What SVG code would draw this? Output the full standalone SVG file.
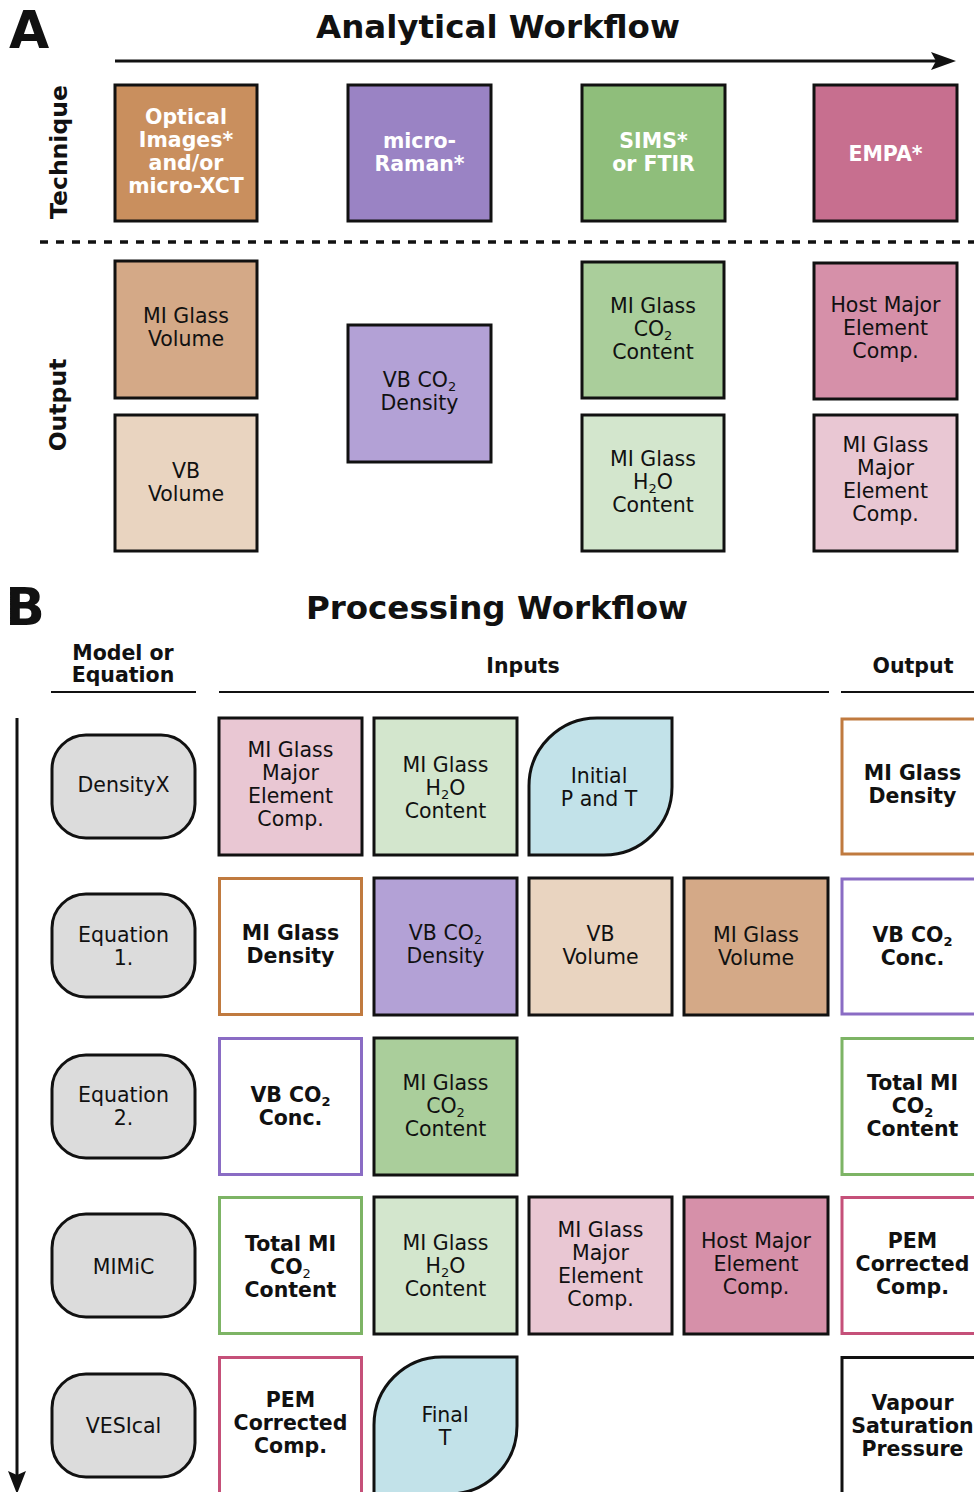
<svg xmlns="http://www.w3.org/2000/svg" width="974" height="1492" viewBox="0 0 974 1492">
<style>
text{font-family:"DejaVu Sans","Verdana",sans-serif;fill:#111;text-anchor:middle;font-size:20.5px}
.b{font-weight:bold}
.w{fill:#fff;font-weight:bold}
.bx{stroke:#111;stroke-width:3}
.ob{fill:#fff;stroke-width:3}
.mod{fill:#dcdcdc;stroke:#111;stroke-width:3}
.sub{font-size:13px}
.hdr{font-weight:bold;font-size:20.5px}
</style>
<rect width="974" height="1492" fill="#fff"/>

<!-- Panel A -->
<text x="29" y="48" class="b" style="font-size:52px">A</text>
<text x="498" y="38" class="b" style="font-size:32.5px">Analytical Workflow</text>
<text transform="translate(67,152) rotate(-90)" class="b" style="font-size:23.5px">Technique</text>
<text transform="translate(66,405) rotate(-90)" class="b" style="font-size:23.5px">Output</text>

<g id="connectors">
<line x1="115" y1="61" x2="938" y2="61" stroke="#111" stroke-width="3"/>
<path d="M956,61 L931,52 L936,61 L931,70 Z" fill="#111"/>
<line x1="40" y1="242" x2="974" y2="242" stroke="#111" stroke-width="3.5" stroke-dasharray="8 8"/>
<line x1="17" y1="718" x2="17" y2="1476" stroke="#111" stroke-width="3"/>
<path d="M17,1494 L8,1471 L17,1475 L26,1471 Z" fill="#111"/>
<line x1="51" y1="692" x2="196" y2="692" stroke="#111" stroke-width="2"/>
<line x1="219" y1="692" x2="829" y2="692" stroke="#111" stroke-width="2"/>
<line x1="841" y1="692" x2="974" y2="692" stroke="#111" stroke-width="2"/>
</g>

<g id="tech-optical"><rect x="115" y="85" width="142" height="136" fill="#c98f5e" class="bx"/>
<text class="w"><tspan x="186" y="124">Optical</tspan><tspan x="186" y="147">Images*</tspan><tspan x="186" y="170">and/or</tspan><tspan x="186" y="193">micro-XCT</tspan></text></g>
<g id="tech-raman"><rect x="348" y="85" width="143" height="136" fill="#9a83c4" class="bx"/>
<text class="w"><tspan x="419.5" y="148">micro-</tspan><tspan x="419.5" y="171">Raman*</tspan></text></g>
<g id="tech-sims"><rect x="582" y="85" width="143" height="136" fill="#8fbe7b" class="bx"/>
<text class="w"><tspan x="653.5" y="148">SIMS*</tspan><tspan x="653.5" y="171">or FTIR</tspan></text></g>
<g id="tech-empa"><rect x="814" y="85" width="143" height="136" fill="#c76f8f" class="bx"/>
<text class="w"><tspan x="885.5" y="161">EMPA*</tspan></text></g>

<g id="out-mivol"><rect x="115" y="261" width="142" height="137" fill="#d4a987" class="bx"/>
<text><tspan x="186" y="323">MI Glass</tspan><tspan x="186" y="346">Volume</tspan></text></g>
<g id="out-vbvol"><rect x="115" y="415" width="142" height="136" fill="#e9d4c0" class="bx"/>
<text><tspan x="186" y="478">VB</tspan><tspan x="186" y="501">Volume</tspan></text></g>
<g id="out-vbden"><rect x="348" y="325" width="143" height="137" fill="#b3a1d6" class="bx"/>
<text><tspan x="419.5" y="387">VB CO<tspan class="sub" dy="4">2</tspan></tspan><tspan x="419.5" y="410">Density</tspan></text></g>
<g id="out-co2"><rect x="582" y="262" width="142" height="136" fill="#aace9b" class="bx"/>
<text><tspan x="653" y="313">MI Glass</tspan><tspan x="653" y="336">CO<tspan class="sub" dy="4">2</tspan></tspan><tspan x="653" y="359">Content</tspan></text></g>
<g id="out-h2o"><rect x="582" y="415" width="142" height="136" fill="#d3e6cd" class="bx"/>
<text><tspan x="653" y="466">MI Glass</tspan><tspan x="653" y="489">H<tspan class="sub" dy="4">2</tspan><tspan dy="-4">O</tspan></tspan><tspan x="653" y="512">Content</tspan></text></g>
<g id="out-host"><rect x="814" y="263" width="143" height="136" fill="#d690a9" class="bx"/>
<text><tspan x="885.5" y="312">Host Major</tspan><tspan x="885.5" y="335">Element</tspan><tspan x="885.5" y="358">Comp.</tspan></text></g>
<g id="out-mimaj"><rect x="814" y="415" width="143" height="136" fill="#e9c7d3" class="bx"/>
<text><tspan x="885.5" y="452">MI Glass</tspan><tspan x="885.5" y="475">Major</tspan><tspan x="885.5" y="498">Element</tspan><tspan x="885.5" y="521">Comp.</tspan></text></g>

<!-- Panel B -->
<text x="25" y="625" class="b" style="font-size:52px">B</text>
<text x="497" y="619" class="b" style="font-size:32.5px">Processing Workflow</text>
<text class="hdr"><tspan x="123" y="660">Model or</tspan><tspan x="123" y="682">Equation</tspan></text>
<text x="523" y="673" class="hdr">Inputs</text>
<text x="913" y="673" class="hdr">Output</text>

<!-- Row 1 -->
<g id="m-densityx"><rect x="52" y="735" width="143" height="103" rx="34" class="mod"/><text x="123.5" y="792">DensityX</text></g>
<g id="r1-mimaj"><rect x="219" y="718" width="143" height="137" fill="#e9c7d3" class="bx"/>
<text><tspan x="290.5" y="757">MI Glass</tspan><tspan x="290.5" y="780">Major</tspan><tspan x="290.5" y="803">Element</tspan><tspan x="290.5" y="826">Comp.</tspan></text></g>
<g id="r1-h2o"><rect x="374" y="718" width="143" height="137" fill="#d3e6cd" class="bx"/>
<text><tspan x="445.5" y="772">MI Glass</tspan><tspan x="445.5" y="795">H<tspan class="sub" dy="4">2</tspan><tspan dy="-4">O</tspan></tspan><tspan x="445.5" y="818">Content</tspan></text></g>
<g id="r1-pt"><path d="M597,718 H672 V787 A68,68 0 0 1 604,855 H529 V786 A68,68 0 0 1 597,718 Z" fill="#c2e2e9" class="bx"/>
<text><tspan x="599" y="783">Initial</tspan><tspan x="599" y="806">P and T</tspan></text></g>
<g id="r1-out"><rect x="842" y="719" width="142" height="135" class="ob" stroke="#c07a3f"/>
<text class="b"><tspan x="912.5" y="780">MI Glass</tspan><tspan x="912.5" y="803">Density</tspan></text></g>

<!-- Row 2 -->
<g id="m-eq1"><rect x="52" y="894" width="143" height="103" rx="34" class="mod"/><text><tspan x="123.5" y="942">Equation</tspan><tspan x="123.5" y="965">1.</tspan></text></g>
<g id="r2-den"><rect x="219.5" y="878.5" width="142" height="136" class="ob" stroke="#c07a3f"/>
<text class="b"><tspan x="290.5" y="940">MI Glass</tspan><tspan x="290.5" y="963">Density</tspan></text></g>
<g id="r2-vbden"><rect x="374" y="878" width="143" height="137" fill="#b3a1d6" class="bx"/>
<text><tspan x="445.5" y="940">VB CO<tspan class="sub" dy="4">2</tspan></tspan><tspan x="445.5" y="963">Density</tspan></text></g>
<g id="r2-vbvol"><rect x="529" y="878" width="143" height="137" fill="#e9d4c0" class="bx"/>
<text><tspan x="600.5" y="941">VB</tspan><tspan x="600.5" y="964">Volume</tspan></text></g>
<g id="r2-mivol"><rect x="684" y="878" width="144" height="137" fill="#d4a987" class="bx"/>
<text><tspan x="756" y="942">MI Glass</tspan><tspan x="756" y="965">Volume</tspan></text></g>
<g id="r2-out"><rect x="842" y="879" width="142" height="135" class="ob" stroke="#8a6cc4"/>
<text class="b"><tspan x="912.5" y="942">VB CO<tspan class="sub" dy="4">2</tspan></tspan><tspan x="912.5" y="965">Conc.</tspan></text></g>

<!-- Row 3 -->
<g id="m-eq2"><rect x="52" y="1055" width="143" height="103" rx="34" class="mod"/><text><tspan x="123.5" y="1102">Equation</tspan><tspan x="123.5" y="1125">2.</tspan></text></g>
<g id="r3-vbc"><rect x="219.5" y="1038.5" width="142" height="136" class="ob" stroke="#8a6cc4"/>
<text class="b"><tspan x="290.5" y="1102">VB CO<tspan class="sub" dy="4">2</tspan></tspan><tspan x="290.5" y="1125">Conc.</tspan></text></g>
<g id="r3-co2"><rect x="374" y="1038" width="143" height="137" fill="#aace9b" class="bx"/>
<text><tspan x="445.5" y="1090">MI Glass</tspan><tspan x="445.5" y="1113">CO<tspan class="sub" dy="4">2</tspan></tspan><tspan x="445.5" y="1136">Content</tspan></text></g>
<g id="r3-out"><rect x="842" y="1038.5" width="142" height="136" class="ob" stroke="#7db465"/>
<text class="b"><tspan x="912.5" y="1090">Total MI</tspan><tspan x="912.5" y="1113">CO<tspan class="sub" dy="4">2</tspan></tspan><tspan x="912.5" y="1136">Content</tspan></text></g>

<!-- Row 4 -->
<g id="m-mimic"><rect x="52" y="1214" width="143" height="103" rx="34" class="mod"/><text x="123.5" y="1274">MIMiC</text></g>
<g id="r4-tot"><rect x="219.5" y="1197.5" width="142" height="136" class="ob" stroke="#7db465"/>
<text class="b"><tspan x="290.5" y="1251">Total MI</tspan><tspan x="290.5" y="1274">CO<tspan class="sub" dy="4" style="font-weight:normal">2</tspan></tspan><tspan x="290.5" y="1297">Content</tspan></text></g>
<g id="r4-h2o"><rect x="374" y="1197" width="143" height="137" fill="#d3e6cd" class="bx"/>
<text><tspan x="445.5" y="1250">MI Glass</tspan><tspan x="445.5" y="1273">H<tspan class="sub" dy="4">2</tspan><tspan dy="-4">O</tspan></tspan><tspan x="445.5" y="1296">Content</tspan></text></g>
<g id="r4-mimaj"><rect x="529" y="1197" width="143" height="137" fill="#e9c7d3" class="bx"/>
<text><tspan x="600.5" y="1237">MI Glass</tspan><tspan x="600.5" y="1260">Major</tspan><tspan x="600.5" y="1283">Element</tspan><tspan x="600.5" y="1306">Comp.</tspan></text></g>
<g id="r4-host"><rect x="684" y="1197" width="144" height="137" fill="#d690a9" class="bx"/>
<text><tspan x="756" y="1248">Host Major</tspan><tspan x="756" y="1271">Element</tspan><tspan x="756" y="1294">Comp.</tspan></text></g>
<g id="r4-out"><rect x="842" y="1197.5" width="142" height="136" class="ob" stroke="#c55079"/>
<text class="b"><tspan x="912.5" y="1248">PEM</tspan><tspan x="912.5" y="1271">Corrected</tspan><tspan x="912.5" y="1294">Comp.</tspan></text></g>

<!-- Row 5 -->
<g id="m-vesical"><rect x="52" y="1374" width="143" height="103" rx="34" class="mod"/><text x="123.5" y="1433">VESIcal</text></g>
<g id="r5-pem"><rect x="219.5" y="1357.5" width="142" height="145" class="ob" stroke="#c55079"/>
<text class="b"><tspan x="290.5" y="1407">PEM</tspan><tspan x="290.5" y="1430">Corrected</tspan><tspan x="290.5" y="1453">Comp.</tspan></text></g>
<g id="r5-t"><path d="M442,1357 H517 V1426 A68,68 0 0 1 449,1494 H374 V1425 A68,68 0 0 1 442,1357 Z" fill="#c2e2e9" class="bx"/>
<text><tspan x="445" y="1422">Final</tspan><tspan x="445" y="1445">T</tspan></text></g>
<g id="r5-out"><rect x="842" y="1357.5" width="142" height="145" class="ob" stroke="#111"/>
<text class="b"><tspan x="912.5" y="1410">Vapour</tspan><tspan x="912.5" y="1433">Saturation</tspan><tspan x="912.5" y="1456">Pressure</tspan></text></g>
</svg>
